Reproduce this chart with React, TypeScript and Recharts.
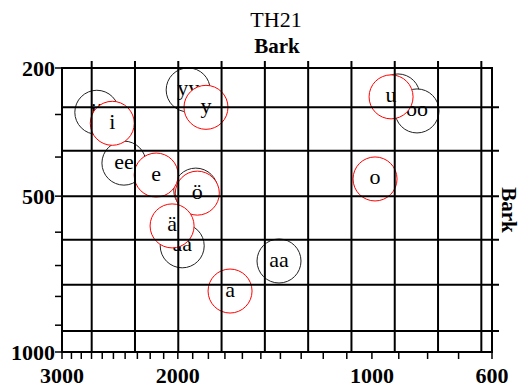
import { ScatterChart, Scatter, XAxis, YAxis, ReferenceLine, ReferenceArea } from 'recharts';

// Traunmüller bark scale
const bark = (f: number) => (26.81 * f) / (1960 + f) - 0.53;
const hz = (z: number) => (1960 * (z + 0.53)) / (26.28 - z);

const labelsLong = ['ii', 'yy', 'uu', 'ee', 'öö', 'oo', 'ää', 'aa'];
const f1Long = [295, 246, 259, 415, 484, 292, 640, 686];
const f2Long = [2650, 1930, 903, 2410, 1880, 836, 1970, 1407];

const labelsShort = ['i', 'y', 'u', 'e', 'ö', 'o', 'ä', 'a'];
const f1Short = [320, 284, 261, 445, 492, 455, 582, 782];
const f2Short = [2510, 1815, 928, 2155, 1870, 988, 2040, 1670];

const f2Ticks = [3000, 2900, 2800, 2700, 2600, 2500, 2400, 2300, 2200, 2100, 2000, 1900, 1800, 1700, 1600, 1500, 1400, 1300, 1200, 1100, 1000, 900, 800, 700, 600];
const f2Labels = [3000, 2000, 1000, 600];
const f1Ticks = [200, 300, 400, 500, 600, 700, 800, 900, 1000];
const f1Labels = [200, 500, 1000];

// grid lines, in bark
const gridF2 = [15, 14, 13, 12, 11, 10, 9, 8, 7, 6];
const gridF1 = [2.86, 3.87, 4.92, 5.93, 6.97, 8.04];

const longData = labelsLong.map((label, i) => ({ label, x: bark(f2Long[i]), y: bark(f1Long[i]) }));
const shortData = labelsShort.map((label, i) => ({ label, x: bark(f2Short[i]), y: bark(f1Short[i]) }));

const FONT = '"Liberation Serif", "Times New Roman", serif';

const makeVowel = (color: string) => (props: any) => {
  const { cx, cy, payload } = props;
  return (
    <g>
      <circle cx={cx} cy={cy} r={22} fill="#fff" stroke={color} strokeWidth={1} />
      <text x={cx} y={cy + 5.5} textAnchor="middle" fontFamily={FONT} fontSize={22} fill="#000">
        {payload.label}
      </text>
    </g>
  );
};

const VLine = (p: any) => (
  <line x1={p.x1} x2={p.x2} y1={Math.min(p.y1, p.y2) - 7} y2={Math.max(p.y1, p.y2)} stroke="#000" strokeWidth={2} />
);
const HLine = (p: any) => (
  <line x1={Math.min(p.x1, p.x2)} x2={Math.max(p.x1, p.x2) + 7} y1={p.y1} y2={p.y2} stroke="#000" strokeWidth={2} />
);

const XTick = (props: any) => {
  const { x, y, payload } = props;
  const f = Math.round(hz(payload.value));
  if (!f2Labels.includes(f)) return null;
  return (
    <text x={x} y={y + 22} textAnchor="middle" fontFamily={FONT} fontSize={22} fontWeight="bold" fill="#000">
      {f}
    </text>
  );
};

const YTick = (props: any) => {
  const { x, y, payload } = props;
  const f = Math.round(hz(payload.value));
  if (!f1Labels.includes(f)) return null;
  return (
    <text x={x} y={y} dy="0.35em" textAnchor="end" fontFamily={FONT} fontSize={22} fontWeight="bold" fill="#000">
      {f}
    </text>
  );
};

export default function App() {
  return (
    <div style={{ position: 'absolute', left: 0, top: 0, width: 520, height: 390 }}>
      <ScatterChart width={520} height={390} margin={{ top: 68, right: 28, bottom: 8, left: 12 }}>
        <XAxis
          type="number"
          dataKey="x"
          domain={[bark(600), bark(3000)]}
          reversed
          allowDataOverflow
          ticks={f2Ticks.map(bark)}
          interval={0}
          height={30}
          tickSize={7}
          tickMargin={2}
          axisLine={false}
          tickLine={{ stroke: '#000', strokeWidth: 1.5 }}
          tick={<XTick />}
        />
        <YAxis
          type="number"
          dataKey="y"
          domain={[bark(200), bark(1000)]}
          reversed
          allowDataOverflow
          ticks={f1Ticks.map(bark)}
          interval={0}
          width={50}
          tickSize={7}
          tickMargin={0}
          axisLine={false}
          tickLine={{ stroke: '#000', strokeWidth: 1.5 }}
          tick={<YTick />}
        />
        <Scatter data={longData} shape={makeVowel('#222')} isAnimationActive={false} />
        <Scatter data={shortData} shape={makeVowel('#ff0000')} isAnimationActive={false} />
        {gridF2.map((z) => (
          <ReferenceLine key={'v' + z} x={z} shape={VLine} zIndex={700} />
        ))}
        {gridF1.map((z) => (
          <ReferenceLine key={'h' + z} y={z} shape={HLine} zIndex={700} />
        ))}
        <ReferenceArea
          x1={bark(3000)}
          x2={bark(600)}
          y1={bark(200)}
          y2={bark(1000)}
          fill="none"
          fillOpacity={0}
          stroke="#000"
          strokeWidth={2}
          strokeOpacity={1}
          zIndex={710}
        />
      </ScatterChart>
      <svg width={520} height={390} style={{ position: 'absolute', left: 0, top: 0, pointerEvents: 'none' }}>
        <text x={276} y={27} textAnchor="middle" fontFamily={FONT} fontSize={22} fill="#000">TH21</text>
        <text x={277} y={53} textAnchor="middle" fontFamily={FONT} fontSize={21} fontWeight="bold" fill="#000">Bark</text>
        <text x={502} y={210} textAnchor="middle" fontFamily={FONT} fontSize={21} fontWeight="bold" fill="#000" transform="rotate(90 502 210)">Bark</text>
      </svg>
    </div>
  );
}
